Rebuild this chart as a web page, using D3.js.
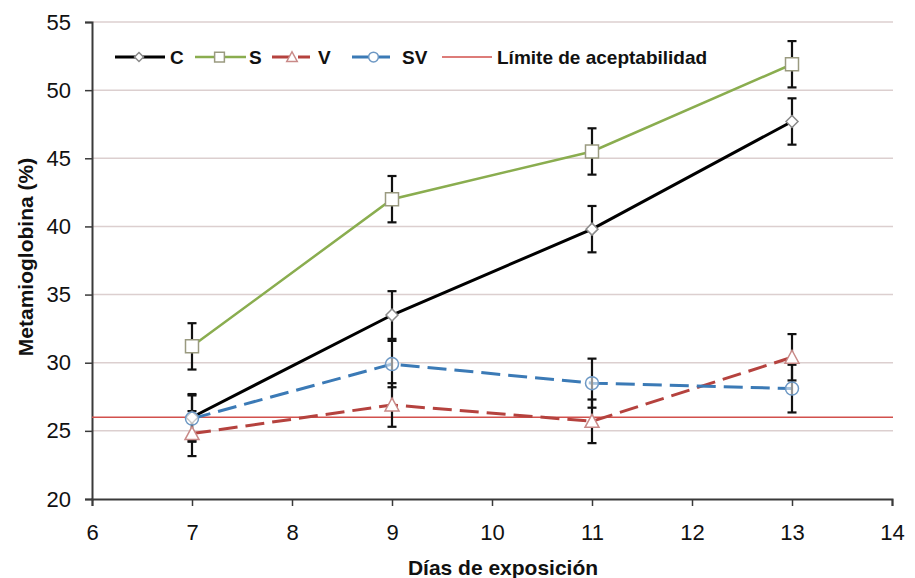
<!DOCTYPE html>
<html>
<head>
<meta charset="utf-8">
<script src="https://cdn.jsdelivr.net/npm/d3@7"></script>
<style>
  body { margin: 0; background: #fff; }
  text { font-family: "Liberation Sans", Arial, sans-serif; }
</style>
</head>
<body>
<script>
// Data
const days = [7, 9, 11, 13];
const valuesC = [26.0, 33.5, 39.8, 47.7];
const errorC = [1.7, 1.75, 1.7, 1.7];
const valuesS = [31.2, 42.0, 45.5, 51.9];
const errorS = [1.7, 1.7, 1.7, 1.7];
const valuesV = [24.8, 26.9, 25.7, 30.4];
const errorV = [1.65, 1.6, 1.6, 1.7];
const valuesSV = [25.9, 29.9, 28.5, 28.1];
const errorSV = [1.7, 1.7, 1.8, 1.75];
const limitValue = 26;
const limitLabel = 'Límite de aceptabilidad';
const xTicks = [6, 7, 8, 9, 10, 11, 12, 13, 14];
const yTicks = [20, 25, 30, 35, 40, 45, 50, 55];

const width = 915;
const height = 578;

const series = [
  { name: 'C', values: valuesC, errors: errorC, color: '#000000', dash: null, marker: 'diamond', markerStroke: '#8a8a8a', lineWidth: 3 },
  { name: 'S', values: valuesS, errors: errorS, color: '#8aad4f', dash: null, marker: 'square', markerStroke: '#9a9a80', lineWidth: 2.5 },
  { name: 'V', values: valuesV, errors: errorV, color: '#b5423e', dash: '19,8', marker: 'triangle', markerStroke: '#c98a88', lineWidth: 3 },
  { name: 'SV', values: valuesSV, errors: errorSV, color: '#3b7ab6', dash: '19,8', marker: 'circle', markerStroke: '#6d98c4', lineWidth: 3 }
];

const x = d3.scaleLinear().domain([6, 14]).range([92, 892]);
const y = d3.scaleLinear().domain([20, 55]).range([499, 22]);

const svg = d3.select('body')
  .append('svg')
  .attr('width', width)
  .attr('height', height);

// gridlines
svg.append('g')
  .selectAll('line')
  .data(yTicks.filter(t => t > 20))
  .enter()
  .append('line')
  .attr('x1', x(6))
  .attr('x2', x(14) + 1)
  .attr('y1', d => y(d))
  .attr('y2', d => y(d))
  .attr('stroke', '#dccfcf')
  .attr('stroke-width', 1.5);

// axes
const xAxis = svg.append('g')
  .attr('transform', `translate(0, ${y(20)})`)
  .call(d3.axisBottom(x).tickValues(xTicks).tickSize(7).tickPadding(18).tickFormat(d3.format('d')));

const yAxis = svg.append('g')
  .attr('transform', `translate(${x(6)}, 0)`)
  .call(d3.axisLeft(y).tickValues(yTicks).tickSize(7).tickPadding(14).tickFormat(d3.format('d')));

[xAxis, yAxis].forEach(a => {
  a.select('.domain').attr('stroke', '#3a3a3a').attr('stroke-width', 2);
  a.selectAll('.tick line').attr('stroke', '#3a3a3a').attr('stroke-width', 1.5);
  a.selectAll('.tick text')
    .attr('fill', '#111')
    .style('font-size', '22px')
    .style('font-family', '"Liberation Sans", Arial, sans-serif');
});

// limit line
svg.append('line')
  .attr('x1', x(6))
  .attr('x2', x(14) + 1)
  .attr('y1', y(limitValue))
  .attr('y2', y(limitValue))
  .attr('stroke', '#d2504c')
  .attr('stroke-width', 1.6);

// series lines
const line = d3.line()
  .x((d, i) => x(days[i]))
  .y(d => y(d));

const seriesG = svg.append('g');
series.forEach(s => {
  seriesG.append('path')
    .datum(s.values)
    .attr('d', line)
    .attr('fill', 'none')
    .attr('stroke', s.color)
    .attr('stroke-width', s.lineWidth)
    .attr('stroke-dasharray', s.dash);
});

// error bars
const errG = svg.append('g');
series.forEach(s => {
  s.values.forEach((v, i) => {
    const cx = x(days[i]);
    const top = y(v + s.errors[i]);
    const bottom = y(v - s.errors[i]);
    errG.append('line')
      .attr('x1', cx).attr('x2', cx)
      .attr('y1', top).attr('y2', bottom)
      .attr('stroke', '#111').attr('stroke-width', 2.2);
    [top, bottom].forEach(yy => {
      errG.append('line')
        .attr('x1', cx - 4.5).attr('x2', cx + 4.5)
        .attr('y1', yy).attr('y2', yy)
        .attr('stroke', '#111').attr('stroke-width', 2.2);
    });
  });
});

// markers
const markerPath = (type, cx, cy, k = 1) => {
  if (type === 'diamond') {
    return `M${cx},${cy - 6 * k}L${cx + 6 * k},${cy}L${cx},${cy + 6 * k}L${cx - 6 * k},${cy}Z`;
  }
  if (type === 'square') {
    return `M${cx - 6.5 * k},${cy - 6.5 * k}h${13 * k}v${13 * k}h${-13 * k}Z`;
  }
  if (type === 'triangle') {
    return `M${cx},${cy - 7 * k}L${cx + 7 * k},${cy + 6 * k}L${cx - 7 * k},${cy + 6 * k}Z`;
  }
  const r = 6.5 * k;
  return `M${cx - r},${cy}a${r},${r} 0 1,0 ${2 * r},0a${r},${r} 0 1,0 ${-2 * r},0Z`;
};

const markG = svg.append('g');
series.forEach(s => {
  markG.selectAll(null)
    .data(s.values)
    .enter()
    .append('path')
    .attr('d', (d, i) => markerPath(s.marker, x(days[i]), y(d)))
    .attr('fill', s.marker === 'circle' ? 'rgba(255,255,255,0.55)' : '#fff')
    .attr('stroke', s.markerStroke)
    .attr('stroke-width', 1.5);
});

// legend
const legendY = 57;
const legendItems = [
  { s: series[0], x0: 115, x1: 165, tx: 170 },
  { s: series[1], x0: 195, x1: 246, tx: 249 },
  { s: series[2], x0: 272, x1: 314, tx: 318 },
  { s: series[3], x0: 352, x1: 397, tx: 402 }
];
const legend = svg.append('g');
legendItems.forEach(item => {
  const mid = (item.x0 + item.x1) / 2 - 1;
  legend.append('line')
    .attr('x1', item.x0).attr('x2', item.x1)
    .attr('y1', legendY).attr('y2', legendY)
    .attr('stroke', item.s.color)
    .attr('stroke-width', item.s.lineWidth)
    .attr('stroke-dasharray', item.s.dash ? '18,8,12' : null);
  legend.append('path')
    .attr('d', markerPath(item.s.marker, mid, legendY, 0.75))
    .attr('fill', '#fff')
    .attr('stroke', item.s.markerStroke)
    .attr('stroke-width', 1.5);
  legend.append('text')
    .attr('x', item.tx)
    .attr('y', legendY + 6.5)
    .attr('font-size', '19px')
    .attr('font-weight', 'bold')
    .attr('fill', '#111')
    .text(item.s.name);
});
legend.append('line')
  .attr('x1', 442).attr('x2', 492)
  .attr('y1', legendY).attr('y2', legendY)
  .attr('stroke', '#d2504c')
  .attr('stroke-width', 1.6);
legend.append('text')
  .attr('x', 497)
  .attr('y', legendY + 6.5)
  .attr('font-size', '19px')
  .attr('font-weight', 'bold')
  .attr('fill', '#111')
  .text(limitLabel);

// axis titles
svg.append('text')
  .attr('x', 503)
  .attr('y', 575)
  .attr('text-anchor', 'middle')
  .attr('font-size', '21px')
  .attr('font-weight', 'bold')
  .attr('fill', '#111')
  .text('Días de exposición');

svg.append('text')
  .attr('transform', 'translate(33, 257) rotate(-90)')
  .attr('text-anchor', 'middle')
  .attr('font-size', '21px')
  .attr('font-weight', 'bold')
  .attr('fill', '#111')
  .text('Metamioglobina (%)');
</script>
</body>
</html>
